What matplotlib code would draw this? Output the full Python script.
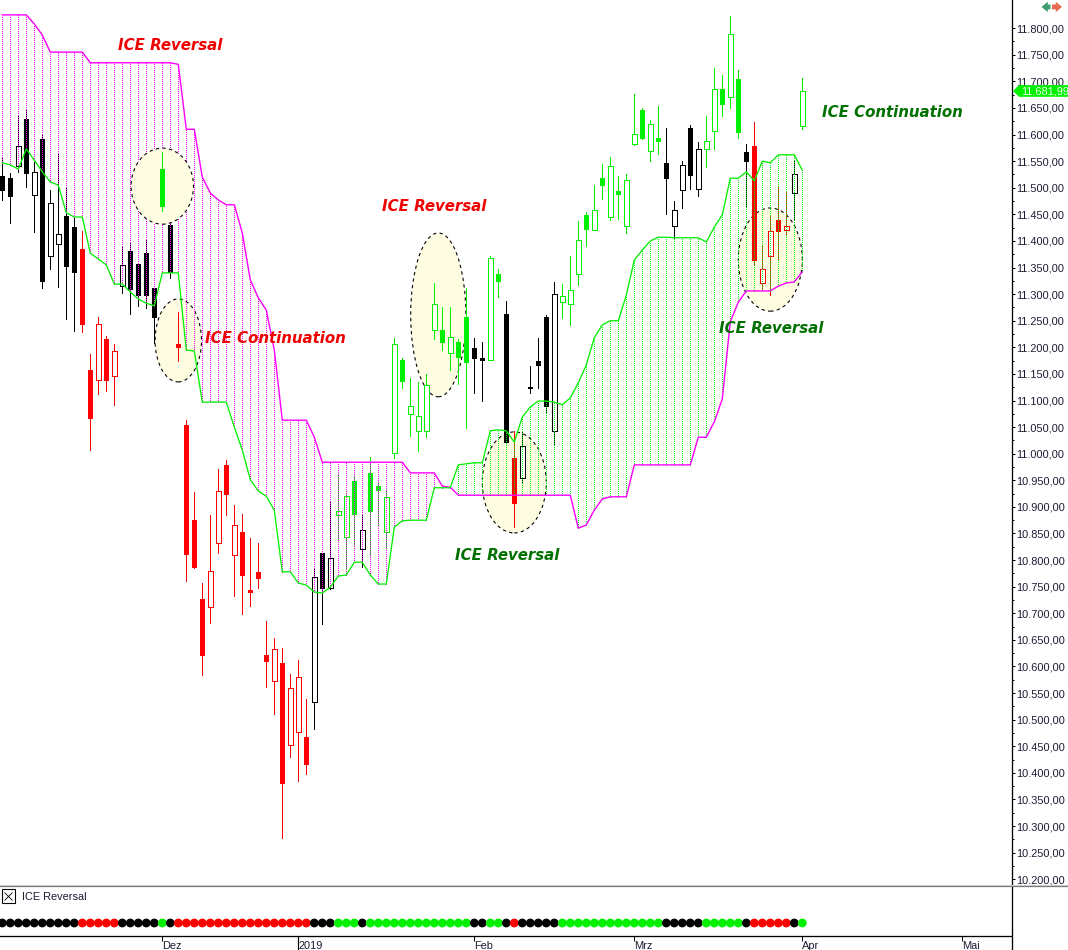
import matplotlib
matplotlib.use("Agg")
import matplotlib.pyplot as plt
from matplotlib.patches import Rectangle, Ellipse, Polygon
import numpy as np

# daily bars
opens = [11522, 11518, 11541, 11629, 11486, 11592, 11372, 11394, 11447, 11426,
         11385, 11157, 11139, 11216, 11146, 11315, 11381, 11357, 11377, 11312,
         11535, 11430, 11206, 11054, 10875, 10727, 10712, 10832, 10979, 10810,
         10853, 10744, 10778, 10622, 10573, 10607, 10452, 10477, 10467, 10533,
         10813, 10748, 10885, 10843, 10949, 10821, 10964, 10939, 10853, 11001,
         11176, 11075, 11043, 11043, 11233, 11233, 11189, 11210, 11257, 11199,
         11180, 11176, 11338, 11263, 10992, 10954, 11125, 11174, 11257, 11043,
         11285, 11281, 11338, 11449, 11421, 11518, 11445, 11494, 11428, 11582,
         11646, 11569, 11594, 11547, 11428, 11496, 11612, 11498, 11573, 11607,
         11686, 11671, 11704, 11567, 11579, 11321, 11372, 11439, 11421, 11490,
         11616]
highs = [11556, 11528, 11635, 11646, 11548, 11599, 11496, 11565, 11501, 11445,
         11419, 11187, 11257, 11221, 11206, 11390, 11398, 11357, 11404, 11312,
         11567, 11432, 11266, 11063, 10928, 10757, 10885, 10971, 10988, 10904,
         10887, 10842, 10832, 10686, 10654, 10635, 10586, 10612, 10539, 10785,
         10813, 10911, 10962, 10926, 10956, 10885, 10994, 10947, 10930, 11218,
         11180, 11142, 11135, 11150, 11321, 11276, 11276, 11216, 11312, 11218,
         11210, 11372, 11347, 11287, 11043, 11041, 11165, 11218, 11261, 11323,
         11319, 11372, 11438, 11454, 11505, 11545, 11558, 11522, 11526, 11676,
         11650, 11627, 11654, 11612, 11475, 11550, 11618, 11586, 11635, 11725,
         11712, 11823, 11721, 11582, 11624, 11392, 11447, 11501, 11494, 11550,
         11706]
lows = [11477, 11434, 11530, 11501, 11417, 11312, 11347, 11313, 11253, 11231,
        11229, 11007, 11112, 11118, 11092, 11302, 11263, 11278, 11274, 11208,
        11456, 11330, 11174, 10761, 10785, 10584, 10682, 10813, 10885, 10733,
        10699, 10714, 10748, 10561, 10511, 10278, 10430, 10385, 10398, 10482,
        10680, 10746, 10838, 10785, 10828, 10787, 10810, 10864, 10823, 10992,
        11124, 11033, 11005, 11031, 11216, 11195, 11157, 11131, 11048, 11114,
        11099, 11176, 11295, 11020, 10862, 10945, 11114, 11124, 11077, 11016,
        11255, 11242, 11317, 11390, 11421, 11479, 11439, 11441, 11415, 11580,
        11592, 11550, 11564, 11451, 11406, 11462, 11498, 11484, 11539, 11573,
        11635, 11650, 11594, 11464, 11355, 11312, 11298, 11366, 11413, 11439,
        11610]
closes = [11494, 11483, 11579, 11526, 11530, 11323, 11471, 11413, 11351, 11340,
          11242, 11065, 11244, 11137, 11193, 11355, 11308, 11296, 11296, 11255,
          11464, 11340, 11199, 10810, 10785, 10620, 10780, 10930, 10922, 10866,
          10770, 10738, 10764, 10608, 10633, 10379, 10560, 10580, 10415, 10768,
          10746, 10804, 10892, 10920, 10885, 10857, 10890, 10930, 10919, 11206,
          11135, 11090, 11071, 11129, 11281, 11208, 11219, 11180, 11171, 11178,
          11174, 11368, 11323, 11020, 10906, 11015, 11122, 11165, 11088, 11300,
          11296, 11308, 11402, 11421, 11458, 11503, 11541, 11486, 11515, 11601,
          11592, 11620, 11586, 11516, 11458, 11543, 11522, 11573, 11588, 11686,
          11656, 11789, 11603, 11548, 11362, 11347, 11419, 11417, 11428, 11526,
          11682]

# ichimoku cloud borders
span_a = [11547, 11543, 11535, 11573, 11552, 11530, 11511, 11505, 11453, 11445,
          11445, 11377, 11366, 11355, 11319, 11319, 11304, 11291, 11283, 11278,
          11340, 11340, 11340, 11195, 11193, 11097, 11097, 11097, 11097, 11050,
          11007, 10951, 10930, 10920, 10894, 10778, 10778, 10757, 10753, 10740,
          10738, 10749, 10770, 10772, 10796, 10796, 10772, 10755, 10755, 10862,
          10874, 10875, 10875, 10875, 10936, 10936, 10936, 10979, 10981, 10983,
          10983, 11043, 11045, 11043, 11022, 11069, 11088, 11099, 11099, 11097,
          11092, 11105, 11133, 11167, 11218, 11242, 11250, 11250, 11298, 11364,
          11383, 11400, 11407, 11407, 11406, 11406, 11406, 11406, 11398, 11426,
          11449, 11518, 11518, 11530, 11513, 11550, 11547, 11562, 11562, 11562,
          11533]
span_b = [11825, 11825, 11825, 11825, 11808, 11787, 11755, 11755, 11755, 11755,
          11755, 11735, 11735, 11735, 11735, 11735, 11735, 11735, 11735, 11735,
          11735, 11735, 11732, 11610, 11610, 11520, 11490, 11477, 11468, 11468,
          11415, 11327, 11293, 11270, 11195, 11063, 11063, 11063, 11063, 11031,
          10984, 10984, 10984, 10984, 10984, 10984, 10984, 10984, 10984, 10984,
          10984, 10964, 10964, 10964, 10964, 10939, 10937, 10922, 10922, 10922,
          10922, 10922, 10922, 10922, 10922, 10922, 10922, 10922, 10922, 10922,
          10922, 10922, 10860, 10866, 10894, 10915, 10919, 10919, 10919, 10979,
          10979, 10979, 10979, 10979, 10979, 10979, 10979, 11031, 11031, 11060,
          11103, 11248, 11285, 11306, 11306, 11306, 11306, 11315, 11321, 11323,
          11342]

# colour of each bar and of its dot in the lower panel
signal = ("k" * 10 + "r" * 5 + "k" * 5 + "g" + "k" + "r" * 17 + "k" * 3 + "g" * 3
          + "k" + "g" * 13 + "k" * 2 + "g" * 2 + "k" + "r" + "k" * 5 + "g" * 13
          + "k" * 5 + "g" * 5 + "k" + "r" * 5 + "k" + "g")

month_pos = [20, 37, 59, 79, 100, 120]
month_labels = ["Dez", "2019", "Feb", "Mrz", "Apr", "Mai"]

price_ticks = list(range(10200, 11801, 50))
last_price = 11681.99

# circles around the signals: centre bar, centre price, bars wide, price high
marks = [(20, 11503, 7.8, 143), (22, 11213, 5.8, 156), (54.5, 11261, 6.9, 308),
         (64, 10946, 8, 190), (96, 11365, 8, 194)]

notes = [("ICE Reversal", 14.46, 11768, "r"),
         ("ICE Reversal", 47.46, 11464, "r"),
         ("ICE Continuation", 25.3, 11216, "r"),
         ("ICE Reversal", 56.6, 10808, "g"),
         ("ICE Reversal", 89.6, 11236, "g"),
         ("ICE Continuation", 102.46, 11641, "g")]

COLORS = {"k": "#000000", "r": "#ff0000", "g": "#00f000"}
NOTE_COLORS = {"r": "#f00000", "g": "#007000"}
TEXT = "#1c1c34"
AXIS_FONT = "Liberation Sans"
W, H = 1068, 950
PX = 0.72
RIGHT = 1011.5 / W
XLIM = (-0.2875, 126.15)
DOT_STEP = 3.76  # two pixels in price units


def price_label(p):
    return f"{p:,.2f}".replace(",", "X").replace(".", ",").replace("X", ".")


def draw_candles(ax):
    for i in range(len(opens)):
        col = COLORS[signal[i]]
        top = max(opens[i], closes[i])
        bot = min(opens[i], closes[i])
        hollow = closes[i] > opens[i]
        # the green bar in the first circle sits above that circle
        z = 6 if i == 20 else 2
        ax.plot([i, i], [lows[i], highs[i]], color=col, lw=PX, zorder=z,
                antialiased=False, solid_capstyle="butt")
        if hollow:
            ax.add_patch(Rectangle((i - 0.28, bot), 0.56, top - bot, facecolor="white",
                                   edgecolor=col, lw=PX, zorder=z + 0.1, antialiased=False))
        else:
            ax.add_patch(Rectangle((i - 0.34, bot), 0.68, top - bot, facecolor=col,
                                   edgecolor="none", zorder=z + 0.1, antialiased=False))


def draw_cloud(ax):
    x = np.arange(len(span_a))
    a = np.array(span_a)
    b = np.array(span_b)
    # the fill is one dotted vertical per bar
    for i in x:
        ys = np.arange(min(a[i], b[i]), max(a[i], b[i]), DOT_STEP)
        col = "#ff00ff" if a[i] < b[i] else "#00f000"
        ax.plot(np.full(len(ys), i), ys, ls="none", marker="s", ms=PX, mew=0, color=col,
                zorder=3, antialiased=False)
    ax.plot(x, b, color="#ff00ff", lw=1.4 * PX, zorder=4)
    ax.plot(x, a, color="#00f000", lw=1.3 * PX, zorder=4)


def draw_marks(ax):
    for n, (cx, cy, w, h) in enumerate(marks):
        # first circle hides the cloud dots, the others lie below them
        z = 5 if n == 0 else 1
        ax.add_patch(Ellipse((cx, cy), w, h, facecolor="#fefde2", edgecolor="black",
                             lw=1.1 * PX, linestyle=(0, (3, 3)), zorder=z))


def draw_price_tag(ax):
    tr = ax.get_yaxis_transform()
    dy = 11
    x0 = 1013 / 1011.5
    x1 = 1019 / 1011.5
    x2 = W / 1011.5
    ax.add_patch(Polygon([(x0, last_price), (x1, last_price + dy), (x2, last_price + dy),
                          (x2, last_price - dy), (x1, last_price - dy)], closed=True,
                         transform=tr, facecolor="#00f000", edgecolor="none",
                         clip_on=False, zorder=10))
    ax.text(1021 / 1011.5, last_price - 1, price_label(last_price), transform=tr,
            color="#eaffea", fontsize=7.9, family=AXIS_FONT, va="center", ha="left",
            clip_on=False, zorder=11)
    # small arrows in the corner
    y = 11840
    for xa, xb, col in [(1050.5, 1041.5, "#3d9e72"), (1052, 1062, "#e66a4d")]:
        ax.annotate("", xy=(xb / 1011.5, y), xytext=(xa / 1011.5, y), xycoords=tr, textcoords=tr,
                    annotation_clip=False,
                    arrowprops=dict(arrowstyle="simple,head_length=0.45,head_width=0.75,tail_width=0.35",
                                    color=col, lw=0, shrinkA=0, shrinkB=0))


def main():
    fig = plt.figure(figsize=(W / 100, H / 100), dpi=100, facecolor="white")
    ax = fig.add_axes([0, (H - 884.5) / H, RIGHT, 884.5 / H])
    ax.set_xlim(*XLIM)
    ax.set_ylim(10190.1, 11853)

    draw_marks(ax)
    draw_candles(ax)
    draw_cloud(ax)

    for txt, x, y, c in notes:
        ax.text(x, y, txt, color=NOTE_COLORS[c], fontsize=10.8, family="DejaVu Sans",
                fontweight="bold", fontstyle="oblique", va="center", ha="left", zorder=7)

    for s in ["top", "left", "bottom"]:
        ax.spines[s].set_visible(False)
    ax.spines["right"].set_linewidth(1.3 * PX)
    ax.xaxis.set_visible(False)
    ax.yaxis.tick_right()
    ax.set_yticks(price_ticks)
    ax.set_yticklabels([price_label(p) for p in price_ticks], fontsize=7.9,
                       family=AXIS_FONT, color=TEXT)
    ax.set_yticks([p + 25 for p in price_ticks[:-1]], minor=True)
    ax.tick_params(axis="y", which="major", length=2.5, width=PX, pad=1.2)
    ax.tick_params(axis="y", which="minor", length=1.2, width=PX)
    draw_price_tag(ax)

    # lower panel, y runs in pixels around the dot row
    ax2 = fig.add_axes([0, 0, RIGHT, (H - 885) / H], facecolor="white", zorder=5)
    ax2.set_xlim(*XLIM)
    ax2.set_ylim(-27, 38)
    x = np.arange(len(signal))
    ax2.scatter(x, np.zeros(len(x)), s=40, c=[COLORS[s] for s in signal], linewidths=0, zorder=3)
    ax2.add_patch(Rectangle((-0.04, 20), 1.6, 14, facecolor="white", edgecolor="black",
                            lw=1.1 * PX))
    ax2.plot([0.76], [27], marker="x", ms=5.5, mew=0.6, color="black")
    ax2.text(2.46, 26.5, "ICE Reversal", fontsize=7.9, family=AXIS_FONT, color=TEXT,
             va="center", ha="left")
    ax2.vlines(37, -27, -13, color="black", lw=1.2 * PX)

    for s in ["top", "left"]:
        ax2.spines[s].set_visible(False)
    ax2.spines["bottom"].set_position(("data", -13))
    ax2.spines["bottom"].set_linewidth(1.3 * PX)
    ax2.spines["right"].set_linewidth(1.3 * PX)
    ax2.set_yticks([])
    ax2.set_xticks(month_pos)
    ax2.set_xticklabels(month_labels, fontsize=7.9, family=AXIS_FONT, color=TEXT, ha="left")
    ax2.tick_params(axis="x", length=3.6, width=PX, pad=0.2)

    # separator between the panels
    fig.add_artist(plt.Line2D([0, 1], [(H - 884.5) / H] * 2, color="#d8d8d8", lw=PX, zorder=6))
    fig.add_artist(plt.Line2D([0, 1], [(H - 886) / H] * 2, color="#7c7c7c", lw=1.3 * PX, zorder=6))

    fig.savefig("out.png", dpi=100, facecolor="white")


if __name__ == "__main__":
    main()
